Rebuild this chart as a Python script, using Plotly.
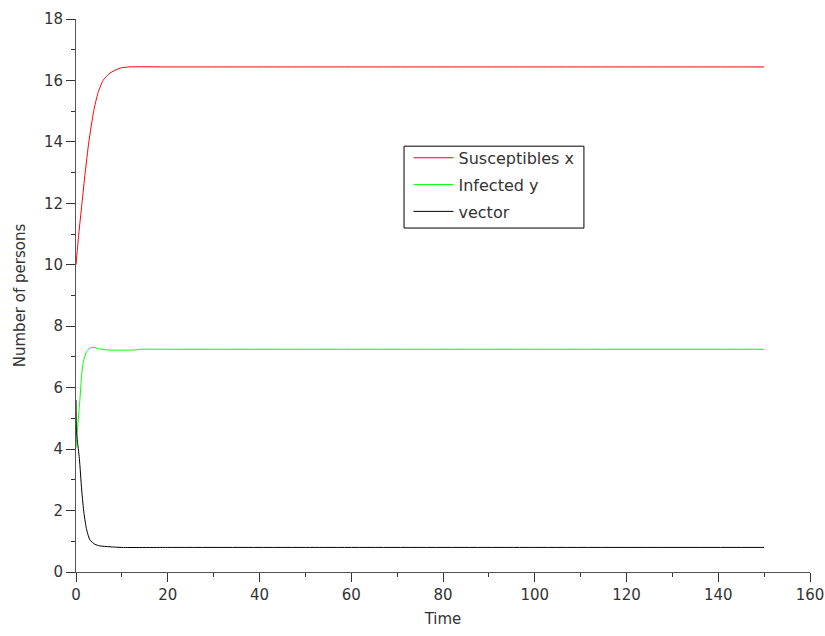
import plotly.graph_objects as go

# Values (time, number of persons)
t_susceptibles = [0, 0.3, 0.6, 1.3, 2.0, 2.8, 3.85, 4.8, 5.9, 7.4, 9.6, 11.5, 20, 50, 100, 150]
susceptibles   = [10.0, 10.5, 11.0, 12.0, 13.0, 14.0, 15.0, 15.6, 16.0, 16.24, 16.4, 16.44, 16.44, 16.44, 16.44, 16.44]

t_infected = [0, 0.4, 0.87, 1.24, 1.6, 2.33, 3.05, 3.78, 5.2, 6.7, 9, 13.2, 14, 20, 50, 100, 150]
infected   = [4.03, 4.8, 5.66, 6.42, 6.85, 7.18, 7.29, 7.31, 7.26, 7.23, 7.22, 7.23, 7.25, 7.25, 7.25, 7.25, 7.25]

t_vector = [0, 0.1, 0.28, 0.73, 1.24, 1.74, 2.33, 3.05, 4.14, 5.2, 7.4, 10, 20, 50, 100, 150]
vector   = [5.6, 4.6, 4.3, 3.7, 2.67, 1.91, 1.37, 1.04, 0.90, 0.85, 0.82, 0.80, 0.80, 0.80, 0.80, 0.80]

series_names = ["Susceptibles x", "Infected y", "vector"]
series_colors = ["#ff0000", "#00ff00", "#000000"]
series_t = [t_susceptibles, t_infected, t_vector]
series_y = [susceptibles, infected, vector]

FONT = "DejaVu Sans"

fig = go.Figure()
for name, ts, ys, col in zip(series_names, series_t, series_y, series_colors):
    fig.add_trace(go.Scatter(x=ts, y=ys, mode="lines", name=name, legendgroup=name,
                             line=dict(color=col, width=1, shape="spline", smoothing=0.6)))

axis_common = dict(
    showgrid=False, zeroline=False, showline=True, linecolor="#555555", linewidth=1,
    ticks="outside", ticklen=9, tickcolor="#333333", tickwidth=1, automargin=False,
    tickfont=dict(family=FONT, size=15, color="#333333"),
    title_font=dict(family=FONT, size=15, color="#333333"),
)

fig.update_xaxes(range=[0, 160], dtick=20, tick0=0, title_text="Time", title_standoff=10,
                 minor=dict(dtick=10, ticklen=4, tickcolor="#333333", ticks="outside", showgrid=False),
                 **axis_common)
fig.update_yaxes(range=[0, 18], dtick=2, tick0=0, title_text="Number of persons", title_standoff=14,
                 minor=dict(dtick=1, ticklen=4, tickcolor="#333333", ticks="outside", showgrid=False),
                 **axis_common)

# legend frame drawn as a box in paper coordinates
fig.add_shape(type="rect", xref="paper", yref="paper",
              x0=0.4469, x1=0.692, y0=0.622, y1=0.770,
              line=dict(color="#000000", width=1), fillcolor="white", layer="below")

fig.update_layout(
    width=825, height=636,
    margin=dict(l=76, r=15, t=19, b=64),
    plot_bgcolor="white", paper_bgcolor="white",
    legend=dict(x=0.453, y=0.7796, xanchor="left", yanchor="top",
                bgcolor="rgba(0,0,0,0)", borderwidth=0,
                font=dict(family=FONT, size=16, color="#333333"),
                traceorder="grouped", tracegroupgap=3,
                entrywidth=156, itemwidth=40),
    showlegend=True,
)

fig.write_html("out.html", config={"displayModeBar": False},
               post_script="document.body.style.margin='0';document.documentElement.style.overflow='hidden';")
